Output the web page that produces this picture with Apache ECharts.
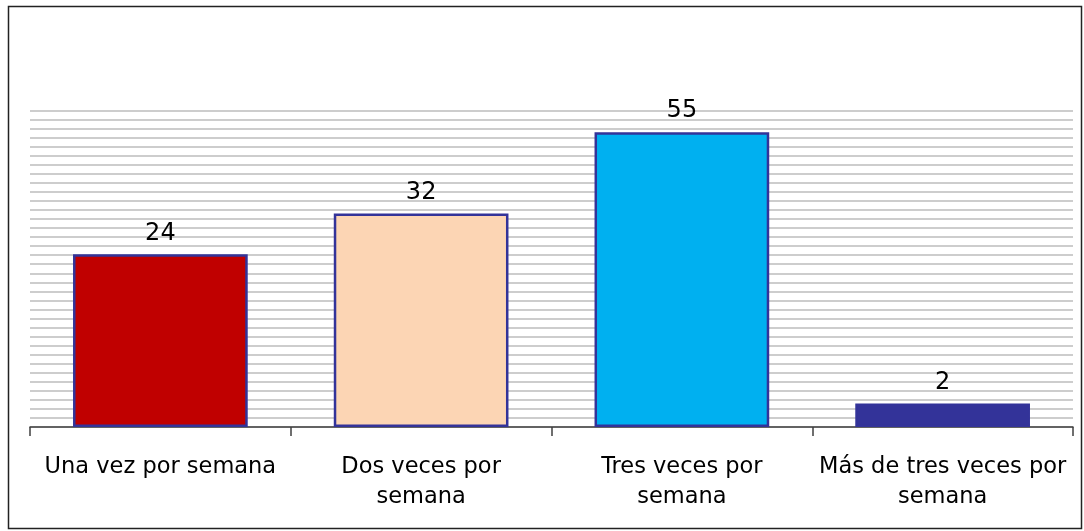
<!DOCTYPE html>
<html>
<head>
<meta charset="utf-8">
<script src="https://cdn.jsdelivr.net/npm/echarts@6/dist/echarts.min.js"></script>
<style>
  html, body { margin: 0; padding: 0; background: #fff; }
  #chart { width: 1084px; height: 531px; }
</style>
</head>
<body>
<div id="chart"></div>
<script>
// categorias del eje x
var categories = ['Una vez por semana', 'Dos veces por\nsemana', 'Tres veces por\nsemana', 'Más de tres veces por\nsemana'];
// altura de las barras (escala de las lineas de division)
var barHeights = [19.1, 23.6, 32.6, 2.6];
// etiquetas que muestra el grafico encima de cada barra
var labelValues = [24, 32, 55, 2];
var barColors = ['#C00000', '#FCD5B4', '#00B0F0', '#333399'];

var chart = echarts.init(document.getElementById('chart'));

var option = {
  animation: false,
  textStyle: { fontFamily: 'DejaVu Sans' },
  grid: { left: 30, right: 11, top: 110.5, bottom: 104 },
  graphic: [{
    type: 'rect',
    shape: { x: 8.5, y: 6.5, width: 1073, height: 522 },
    style: { fill: 'none', stroke: '#222', lineWidth: 1.5 }
  }],
  xAxis: {
    type: 'category',
    data: categories,
    axisLine: { lineStyle: { color: '#404040', width: 1.5 } },
    axisTick: { show: true, length: 9, lineStyle: { color: '#404040', width: 1.5 } },
    axisLabel: { color: '#000', fontSize: 22.5, lineHeight: 30, margin: 25, interval: 0 }
  },
  yAxis: {
    type: 'value',
    min: 0,
    max: 35,
    interval: 1,
    axisLine: { show: false },
    axisTick: { show: false },
    axisLabel: { show: false },
    splitLine: { lineStyle: { color: '#bdbdbd', width: 1.5 } }
  },
  series: [{
    type: 'bar',
    barCategoryGap: '33%',
    data: barHeights.map(function (v, i) {
      return {
        value: v,
        itemStyle: { color: barColors[i] }
      };
    }),
    itemStyle: { borderColor: '#333399', borderWidth: 2.5 },
    label: {
      show: true,
      position: 'top',
      distance: 9,
      color: '#000',
      fontSize: 24,
      formatter: function (p) { return String(labelValues[p.dataIndex]); }
    }
  }]
};

chart.setOption(option);
</script>
</body>
</html>
